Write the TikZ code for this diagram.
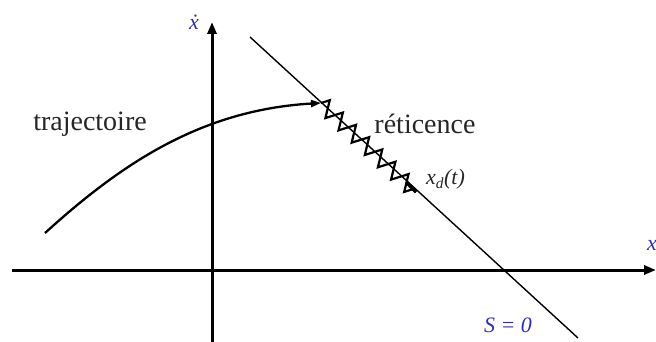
\documentclass[tikz,border=0pt]{standalone}
\usepackage{fontspec}
\setmainfont{Liberation Serif}
\usetikzlibrary{arrows.meta,decorations.pathmorphing}
\definecolor{lblblue}{RGB}{45,45,190}
\begin{document}
\begin{tikzpicture}[x=1pt,y=-1pt,
  axis/.style={line width=3pt,-{Triangle[length=12pt,width=9pt]}},
  sline/.style={line width=1.4pt},
  traj/.style={line width=2.3pt,-{Triangle[length=10pt,width=7pt]}},
  zz/.style={line width=2.2pt,decorate,decoration={zigzag,segment length=18pt,amplitude=8pt}},
  lbl/.style={font=\fontsize{28}{30}\selectfont,text=black!85,inner sep=0pt},
  blbl/.style={font=\fontsize{22}{24}\selectfont\itshape,text=lblblue,inner sep=0pt}]
\useasboundingbox (0,0) rectangle (656,342);
% axes
\coordinate (vb) at (212,342);
\coordinate (vt) at (212,22);
\coordinate (hl) at (12,270);
\coordinate (hr) at (656,270);
\draw[axis] (vb) -- (vt);
\draw[axis] (hl) -- (hr);
% sliding line
\coordinate (s1) at (250,37);
\coordinate (s2) at (578,338);
\draw[sline] (s1) -- (s2);
% trajectory
\coordinate (t0) at (45,233);
\coordinate (t1) at (321,103);
\draw[traj] (t0) .. controls (120,165) and (200,110) .. (t1);
% chattering
\coordinate (z1) at (416,192);
\draw[zz] (t1) -- (z1);
\draw[line width=3.2pt] (406,182) -- (z1);
% labels
\node[lbl] (ltraj) at (90,124) {trajectoire};
\node[lbl] (lret) at (425,124) {réticence};
\node[font=\fontsize{22}{24}\selectfont\itshape,text=black!85,inner sep=0pt,anchor=base west] (lxd) at (426,185) {x\textsubscript{d}(t)};
\node[blbl] (lxdot) at (194,22) {\.x};
\node[blbl,anchor=west] (lx) at (647,245) {x};
\node[blbl] (ls) at (508,325) {S = 0};
\end{tikzpicture}
\end{document}
